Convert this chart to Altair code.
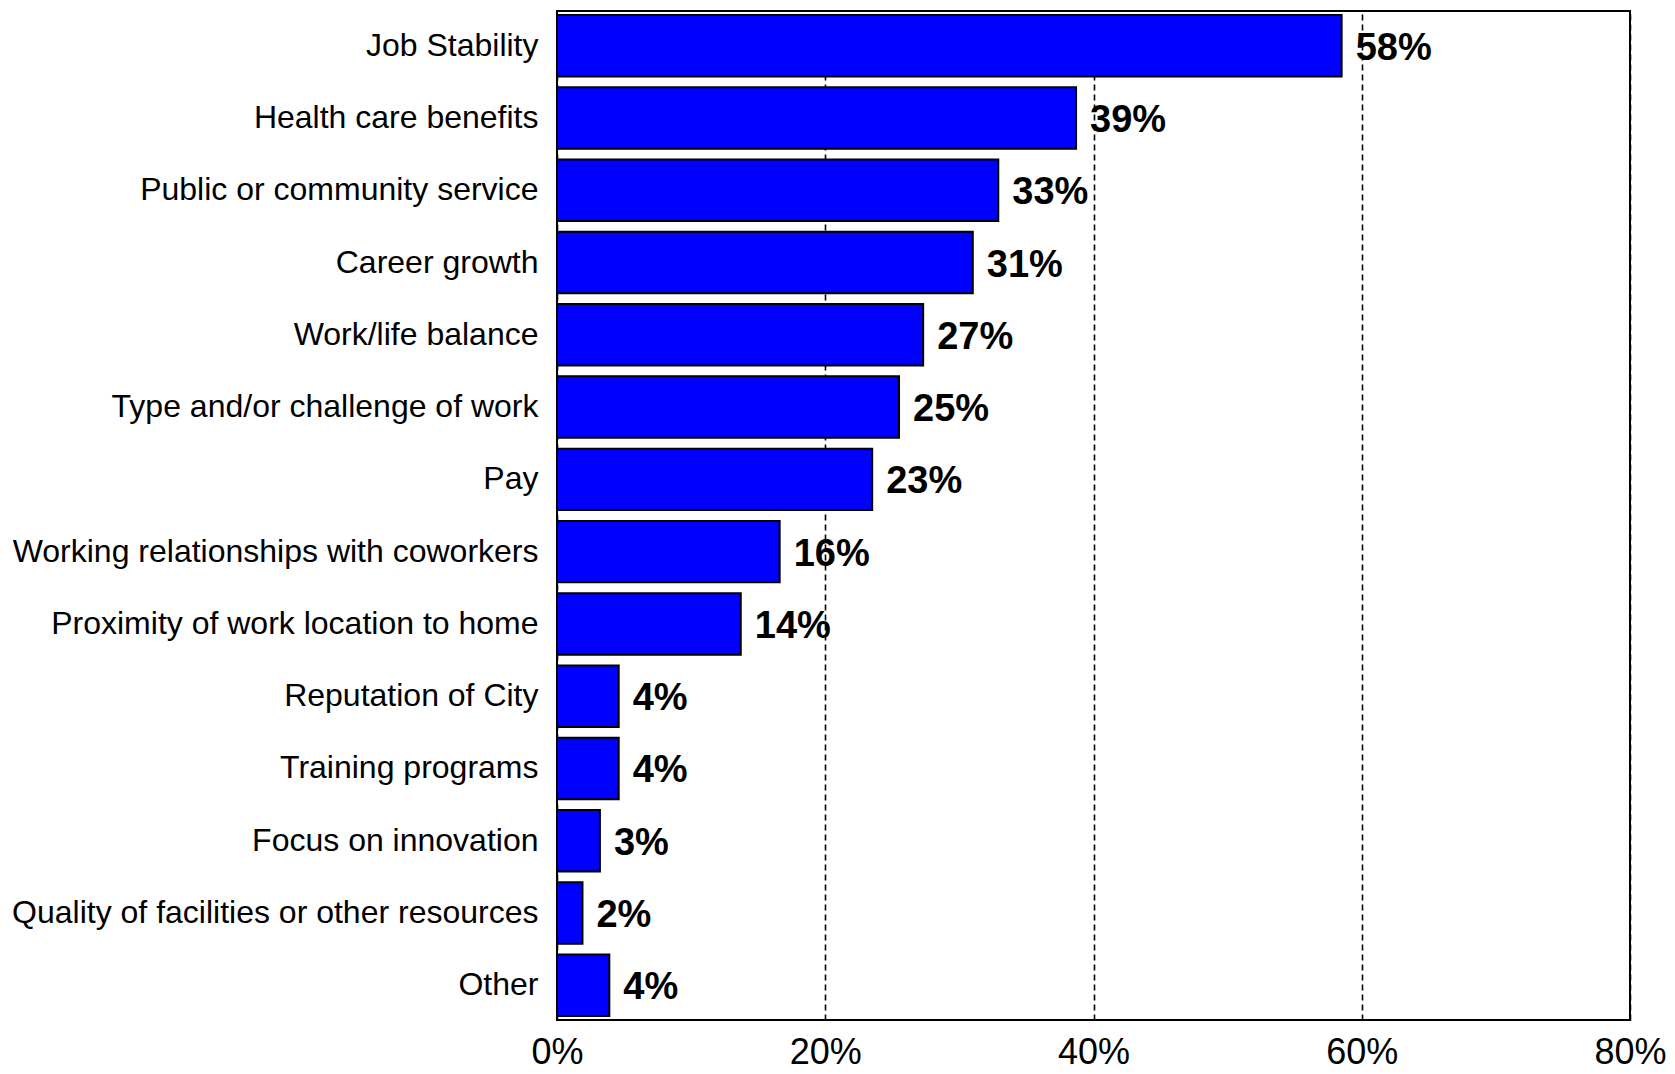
import altair as alt
import pandas as pd

categories = [
    "Job Stability",
    "Health care benefits",
    "Public or community service",
    "Career growth",
    "Work/life balance",
    "Type and/or challenge of work",
    "Pay",
    "Working relationships with coworkers",
    "Proximity of work location to home",
    "Reputation of City",
    "Training programs",
    "Focus on innovation",
    "Quality of facilities or other resources",
    "Other",
]
values = [58.5, 38.7, 32.9, 31.0, 27.3, 25.5, 23.5, 16.6, 13.7, 4.6, 4.6, 3.2, 1.9, 3.9]
value_labels = ["58%", "39%", "33%", "31%", "27%", "25%", "23%", "16%", "14%", "4%", "4%", "3%", "2%", "4%"]
x_ticks = [0, 20, 40, 60, 80]

df = pd.DataFrame({"category": categories, "value": values, "label": value_labels})

FONT = "Liberation Sans, Arial, Helvetica, sans-serif"

x_enc = alt.X(
    "value:Q",
    scale=alt.Scale(domain=[0, 80], nice=False),
    axis=alt.Axis(
        values=x_ticks,
        labelExpr="datum.value + '%'",
        title=None,
        domain=False,
        ticks=False,
        grid=True,
        gridColor="black",
        gridDash=[6, 4],
        gridWidth=1.6,
        labelFont=FONT,
        labelFontSize=36,
        labelColor="black",
        labelPadding=15,
        labelFlush=False,
        labelOverlap=False,
    ),
)
y_enc = alt.Y(
    "category:N",
    sort=None,
    scale=alt.Scale(paddingInner=0.15, paddingOuter=0.055),
    axis=alt.Axis(
        title=None,
        domain=False,
        ticks=False,
        grid=False,
        labelFont=FONT,
        labelFontSize=32,
        labelColor="black",
        labelPadding=19,
        labelLimit=700,
    ),
)

bars = alt.Chart(df).mark_bar(
    color="#0000FF", stroke="black", strokeWidth=2
).encode(x=x_enc, y=y_enc)

text = alt.Chart(df).mark_text(
    align="left", baseline="middle", dx=14, dy=3,
    font=FONT, fontSize=38, fontWeight="bold", color="black"
).encode(x="value:Q", y=alt.Y("category:N", sort=None), text="label:N")

chart = (
    alt.layer(bars, text)
    .properties(
        width=1073,
        height=1009,
        autosize=alt.AutoSizeParams(type="none"),
        padding={"left": 557, "top": 11, "right": 45, "bottom": 54},
        background="white",
    )
    .configure_view(stroke="black", strokeWidth=2)
)

chart.save("out.html", embed_options={"renderer": "svg", "actions": False})
